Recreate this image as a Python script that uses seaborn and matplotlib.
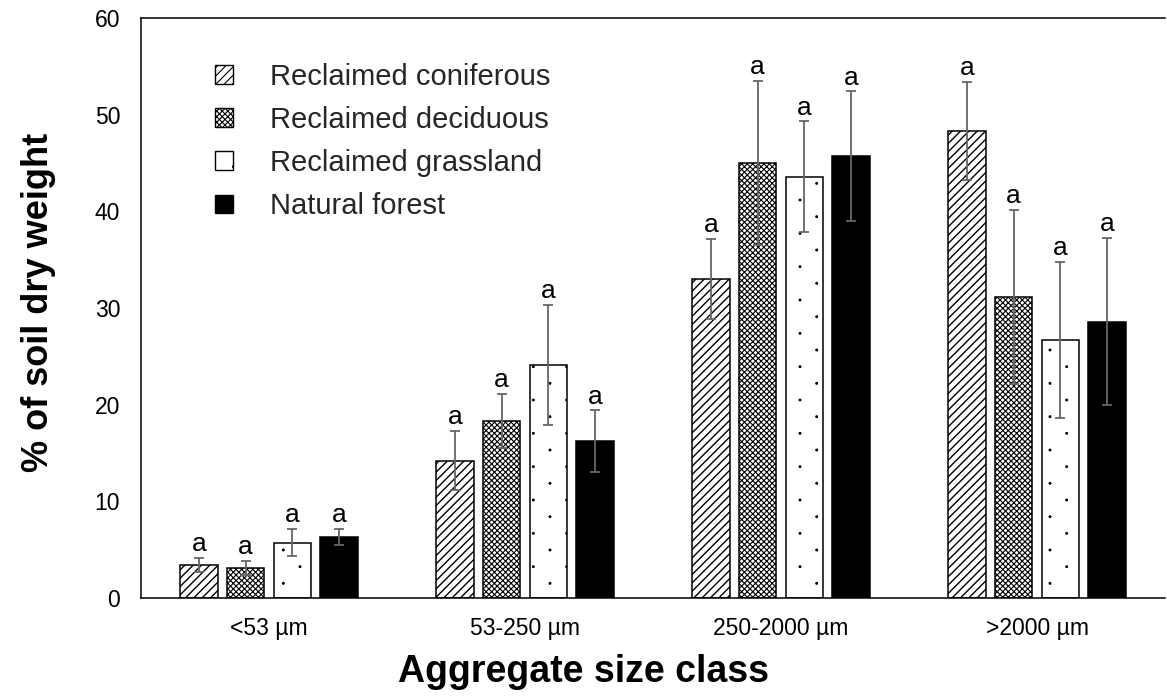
import matplotlib
matplotlib.use("Agg")
import numpy as np
import matplotlib.pyplot as plt
import matplotlib.hatch as mhatch
from matplotlib.path import Path
from matplotlib.patches import Patch
import seaborn as sns
import pandas as pd

# Aggregate size classes and land-use types
size_classes = ["<53 µm", "53-250 µm", "250-2000 µm", ">2000 µm"]
land_uses = ["Reclaimed coniferous", "Reclaimed deciduous",
             "Reclaimed grassland", "Natural forest"]

# Mean % of soil dry weight per size class, one list per land use
coniferous = [3.4, 14.2, 33.0, 48.3]
deciduous = [3.1, 18.3, 45.0, 31.1]
grassland = [5.7, 24.1, 43.6, 26.7]
natural = [6.3, 16.2, 45.7, 28.6]

# Standard errors
coniferous_err = [0.7, 3.05, 4.1, 5.1]
deciduous_err = [0.7, 2.8, 8.5, 9.0]
grassland_err = [1.4, 6.2, 5.7, 8.1]
natural_err = [0.85, 3.2, 6.7, 8.6]

# Significance letters
letters = [["a"] * 4, ["a"] * 4, ["a"] * 4, ["a"] * 4]

means = [coniferous, deciduous, grassland, natural]
errors = [coniferous_err, deciduous_err, grassland_err, natural_err]


class SparseDots(mhatch.HatchPatternBase):
    """Small filled dots in a staggered lattice ('.' hatch)."""
    radius = 0.009

    def __init__(self, hatch, density):
        n = hatch.count('.') * density
        n += n % 2
        self.n = n
        circle = Path.unit_circle()
        self.cv = circle.vertices
        self.cc = circle.codes
        pts = []
        if n:
            for r in range(n + 1):
                y = r / n
                xs = np.arange(0, 1 + 1e-9, 2 / n) + (r % 2) / n
                for x in xs[xs <= 1 + 1e-9]:
                    pts.append((x, y))
        self.pts = pts
        self.num_vertices = len(pts) * len(self.cv)

    def set_vertices_and_codes(self, vertices, codes):
        verts = [self.cv * self.radius + p for p in self.pts]
        np.concatenate(verts, out=vertices)
        np.concatenate([self.cc] * len(self.pts), out=codes)


mhatch._hatch_types = [SparseDots if t is mhatch.SmallFilledCircles else t
                       for t in mhatch._hatch_types]

df = pd.DataFrame(
    [(s, lu, means[i][j]) for i, lu in enumerate(land_uses)
     for j, s in enumerate(size_classes)],
    columns=["size", "land_use", "value"],
)

sns.set_theme(style="white")
plt.rcParams["font.family"] = ["Liberation Sans", "DejaVu Sans"]
plt.rcParams["hatch.color"] = "black"
plt.rcParams["hatch.linewidth"] = 0.8

fig = plt.figure(figsize=(11.67, 6.96), dpi=100)
ax = fig.add_axes([0.1208, 0.1408, 0.8775, 0.8333])

fills = ["white", "white", "white", "black"]
hatches = ["////", "xxxxxx", ".", ""]
hatch_widths = [1.0, 0.8, 0.8, 0.8]

sns.barplot(data=df, x="size", y="value", hue="land_use",
            order=size_classes, hue_order=land_uses, palette=fills,
            edgecolor="black", linewidth=1.1, width=0.73, gap=0.2,
            errorbar=None, legend=False, ax=ax)


def style_patch(p, k):
    p.set_hatch(hatches[k])
    p.set_edgecolor("black")
    if hasattr(p, "set_hatch_linewidth"):
        p.set_hatch_linewidth(hatch_widths[k])


bar_groups = list(ax.containers)
for i, cont in enumerate(bar_groups):
    for j, bar in enumerate(cont.patches):
        style_patch(bar, i)
        xc = bar.get_x() + bar.get_width() / 2
        ax.errorbar(xc, means[i][j], yerr=errors[i][j], color="#666666",
                    elinewidth=1.3, capsize=3.6, capthick=1.3, fmt="none",
                    zorder=5)
        ax.annotate(letters[i][j], (xc, means[i][j] + errors[i][j]),
                    xytext=(0, 5), textcoords="offset points",
                    ha="center", va="baseline", fontsize=19, color="black")

ax.set_ylim(0, 60)
ax.set_yticks(range(0, 61, 10))
ax.set_xlim(-0.5, 3.5)

for side in ["left", "bottom", "top"]:
    ax.spines[side].set_visible(True)
    ax.spines[side].set_color("black")
    ax.spines[side].set_linewidth(1.1)
ax.spines["right"].set_visible(False)

ax.tick_params(axis="y", length=0, pad=15, labelsize=16.5, colors="black")
ax.tick_params(axis="x", length=0, pad=14, labelsize=16.5, colors="black")

ax.set_xlabel("Aggregate size class", fontsize=27, fontweight="bold",
              labelpad=10, color="black")
ax.set_ylabel("% of soil dry weight", fontsize=26, fontweight="bold",
              labelpad=28, color="black")
# Centre the x title on the figure rather than on the plotting area
ax.xaxis.label.set_x(0.432)
ax.yaxis.label.set_y(0.51)

handles = []
for k in range(4):
    h = Patch(facecolor=fills[k], edgecolor="black", linewidth=1.0,
              label=land_uses[k])
    style_patch(h, k)
    handles.append(h)
ax.legend(handles=handles, loc="upper left",
          bbox_to_anchor=(0.0723, 0.923), frameon=False, fontsize=21,
          handlelength=0.6, handleheight=0.6, handletextpad=1.3,
          labelspacing=0.52, borderpad=0, borderaxespad=0)

fig.savefig("out.png", dpi=100)
